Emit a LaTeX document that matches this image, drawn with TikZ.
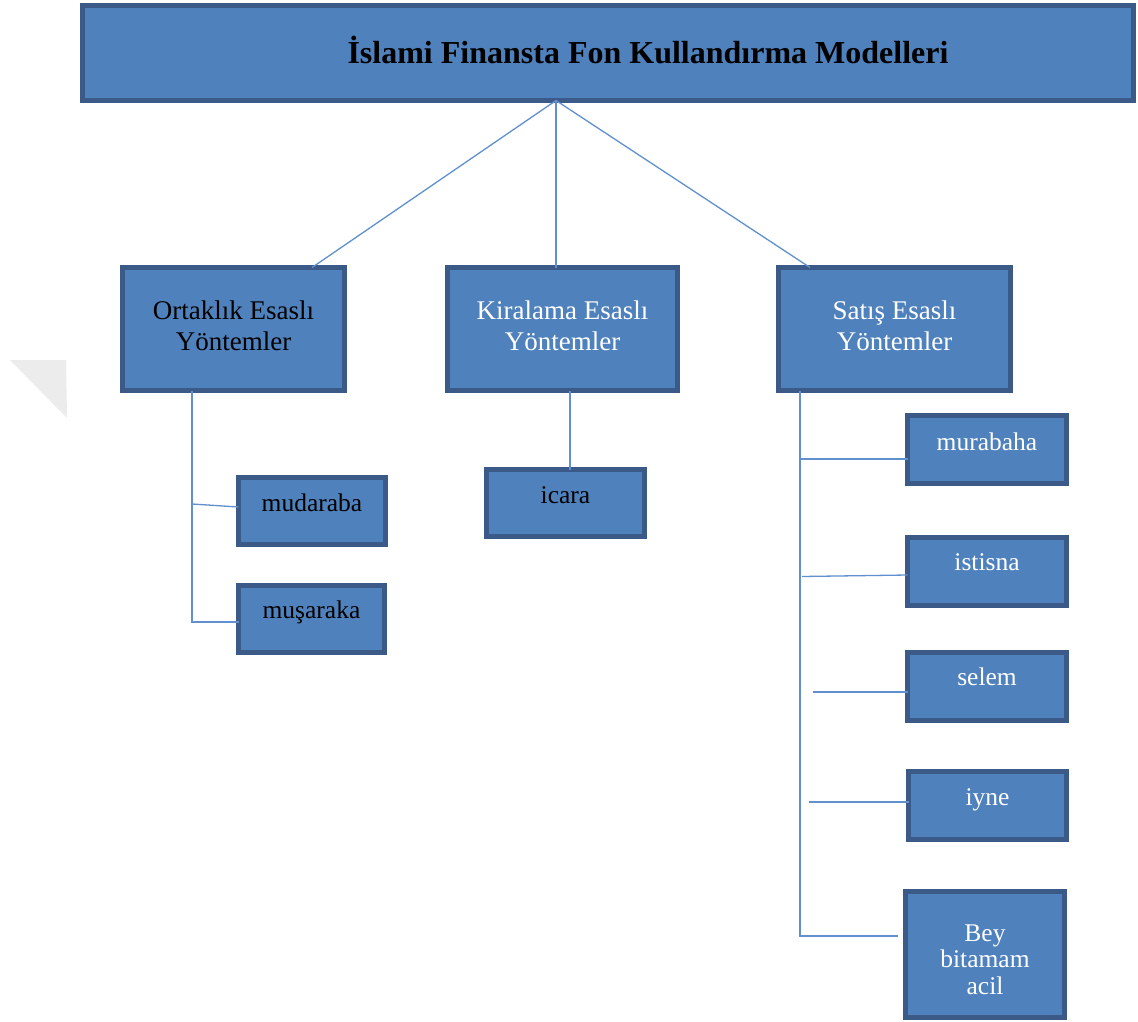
\documentclass[tikz,border=0pt]{standalone}
\usepackage{fontspec}
\setmainfont{Liberation Serif}
\usetikzlibrary{calc}
\definecolor{boxfill}{RGB}{79,129,189}
\definecolor{boxedge}{RGB}{59,90,135}
\definecolor{linkcol}{RGB}{96,144,205}
\definecolor{pagecorner}{RGB}{236,236,236}
\tikzset{
  box/.style={draw=boxedge, line width=5pt, fill=boxfill, inner sep=0pt, outer sep=0pt},
  dark/.style={text=black},
  light/.style={text=white},
  lbl/.style={font=\fontsize{27}{30.5}\selectfont, align=center},
  small/.style={font=\fontsize{25.5}{26.5}\selectfont, align=center},
  link/.style={draw=linkcol, line width=1.3pt},
}
\begin{document}
\begin{tikzpicture}[x=1pt, y=-1pt]
\useasboundingbox (0,0) rectangle (1138,1022);
\fill[white] (0,0) rectangle (1138,1022);

% folded page corner at the left margin
\fill[pagecorner] (10,360) -- (66,360) -- (67,418) -- cycle;

% title
\node[box, minimum width=1051pt, minimum height=95pt,
  label={[xshift=40pt, yshift=3pt, font=\bfseries\fontsize{32}{36}\selectfont]center:İslami Finansta Fon Kullandırma Modelleri}]
  (title) at (608,53) {};

% main groups
\node[box, minimum width=222pt, minimum height=123pt,
  label={[lbl, dark, yshift=3pt]center:Ortaklık Esaslı\\Yöntemler}] (ort) at (233.5,329) {};
\node[box, minimum width=230pt, minimum height=123pt,
  label={[lbl, light, yshift=3pt]center:Kiralama Esaslı\\Yöntemler}] (kir) at (562.5,329) {};
\node[box, minimum width=232pt, minimum height=123pt,
  label={[lbl, light, yshift=3pt]center:Satış Esaslı\\Yöntemler}] (sat) at (894.5,329) {};

% partnership based methods
\node[box, minimum width=147pt, minimum height=67pt,
  label={[small, dark, yshift=8pt]center:mudaraba}] (mud) at (312,511) {};
\node[box, minimum width=146pt, minimum height=67pt,
  label={[small, dark, yshift=7pt]center:muşaraka}] (mus) at (311.5,619) {};

% leasing based methods
\node[box, minimum width=158pt, minimum height=67pt,
  label={[small, dark, yshift=8pt]center:icara}] (ica) at (565.5,503) {};

% sale based methods
\node[box, minimum width=159pt, minimum height=68pt,
  label={[small, light, yshift=8pt]center:murabaha}] (mura) at (987,449.5) {};
\node[box, minimum width=159pt, minimum height=68pt,
  label={[small, light, yshift=9pt]center:istisna}] (isti) at (987,571.5) {};
\node[box, minimum width=159pt, minimum height=68pt,
  label={[small, light, yshift=9pt]center:selem}] (sel) at (987,686) {};
\node[box, minimum width=158pt, minimum height=68pt,
  label={[small, light, yshift=6pt]center:iyne}] (iyn) at (987.5,805.5) {};
\node[box, minimum width=159pt, minimum height=126pt,
  label={[small, light, yshift=-5pt]center:Bey\\bitamam\\acil}] (bey) at (985,954.5) {};

% connectors from the title
\coordinate (hub) at ([xshift=-52pt]title.south);
\draw[link] (hub) -- ([xshift=78.5pt]ort.north);
\draw[link] (hub) -- ([xshift=-6.5pt]kir.north);
\draw[link] (hub) -- ([xshift=-84.5pt]sat.north);

% left tree
\coordinate (otrunk) at ([xshift=-41.5pt]ort.south);
\draw[link] (otrunk) |- ([yshift=-3pt]mus.west);
\draw[link] ([yshift=7pt]mud.west -| otrunk) -- ([yshift=4pt]mud.west);

% middle
\draw[link] ([xshift=4.5pt]ica.north) -- ([xshift=4.5pt]ica.north |- kir.south);

% right tree
\coordinate (strunk) at ([xshift=-94.5pt]sat.south);
\coordinate (beyend) at ([xshift=-8pt, yshift=18.5pt]bey.west);
\draw[link] (strunk) |- (beyend);
\draw[link] ([yshift=-9.5pt]mura.west -| strunk) -- ([yshift=-9.5pt]mura.west);
\draw[link] ([xshift=2pt, yshift=-5pt]isti.west -| strunk) -- ([yshift=-3.5pt]isti.west);
\coordinate (selstart) at ([xshift=-95pt, yshift=-6pt]sel.west);
\draw[link] (selstart) -- ([yshift=-6pt]sel.west);
\coordinate (iynstart) at ([xshift=-100pt, yshift=3.5pt]iyn.west);
\draw[link] (iynstart) -- ([yshift=3.5pt]iyn.west);
\end{tikzpicture}
\end{document}
